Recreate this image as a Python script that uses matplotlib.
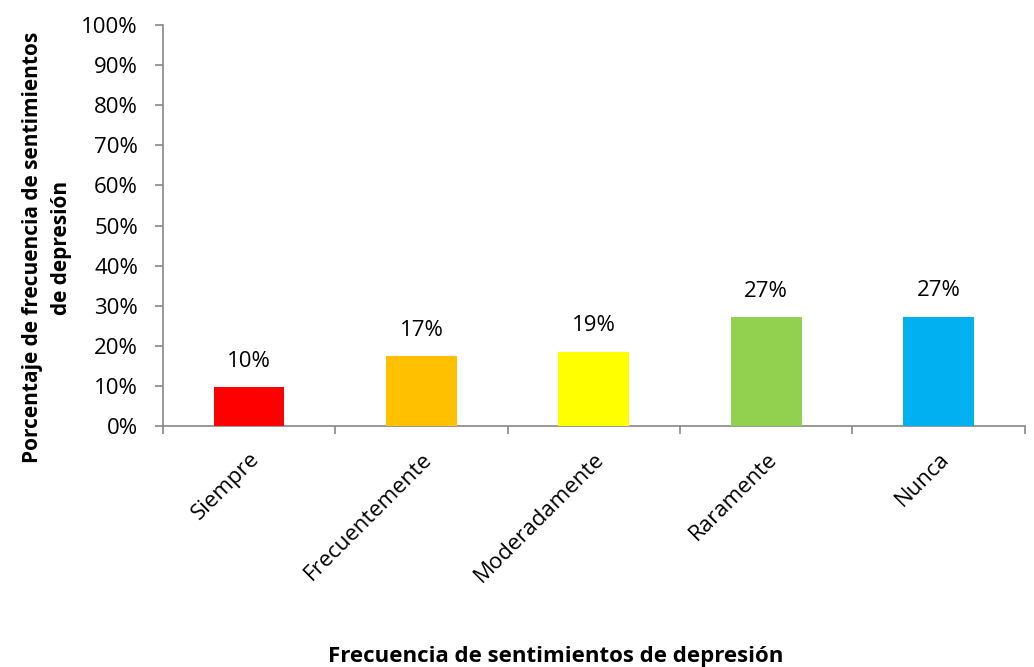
import matplotlib.pyplot as plt
import matplotlib.ticker as ticker
import numpy as np

# data
categories = ['Siempre', 'Frecuentemente', 'Moderadamente', 'Raramente', 'Nunca']
values = [9.7, 17.4, 18.6, 27.1, 27.3]
labels = ['10%', '17%', '19%', '27%', '27%']
colors = ['#FF0000', '#FFC000', '#FFFF00', '#92D050', '#00B0F0']

plt.rcParams['font.family'] = ['Open Sans', 'DejaVu Sans']
axis_color = '#868686'

fig = plt.figure(figsize=(10.34, 6.67), dpi=100)
ax = fig.add_axes([0.1576, 0.361, 0.8334, 0.6015])

x = np.arange(len(categories))
bars = ax.bar(x, values, width=0.41, color=colors, zorder=3)

for b, lab in zip(bars, labels):
    ax.annotate(lab, (b.get_x() + b.get_width() / 2, b.get_height()),
                xytext=(0, 11), textcoords='offset points',
                ha='center', va='bottom', fontsize=16)

ax.set_xlim(-0.5, len(categories) - 0.5)
ax.set_ylim(0, 100)
ax.yaxis.set_major_locator(ticker.MultipleLocator(10))
ax.yaxis.set_major_formatter(ticker.FuncFormatter(lambda v, p: f'{int(v)}%'))

# boundary ticks on x, labels centred on the bars
ax.set_xticks(np.arange(-0.5, len(categories)), labels=[''] * (len(categories) + 1))
ax.set_xticks(x, minor=True)
ax.set_xticklabels(categories, minor=True, rotation=45, ha='right',
                   rotation_mode='anchor', fontsize=16)
ax.tick_params(axis='x', which='minor', length=0, pad=16)
ax.tick_params(axis='x', which='major', length=6, color=axis_color, width=1.2)
ax.tick_params(axis='y', length=6, color=axis_color, width=1.2, labelsize=16, pad=12)

for s in ['top', 'right']:
    ax.spines[s].set_visible(False)
for s in ['left', 'bottom']:
    ax.spines[s].set_color(axis_color)
    ax.spines[s].set_linewidth(1.2)

ax.set_ylabel('Porcentaje de frecuencia de sentimientos\nde depresión',
              fontsize=15, fontweight='bold', linespacing=1.45)
ax.yaxis.set_label_coords(-0.106, 0.445)
fig.text(0.537, 0.0, 'Frecuencia de sentimientos de depresión',
         ha='center', va='bottom', fontsize=16, fontweight='bold')

fig.savefig('out.png', dpi=100)
